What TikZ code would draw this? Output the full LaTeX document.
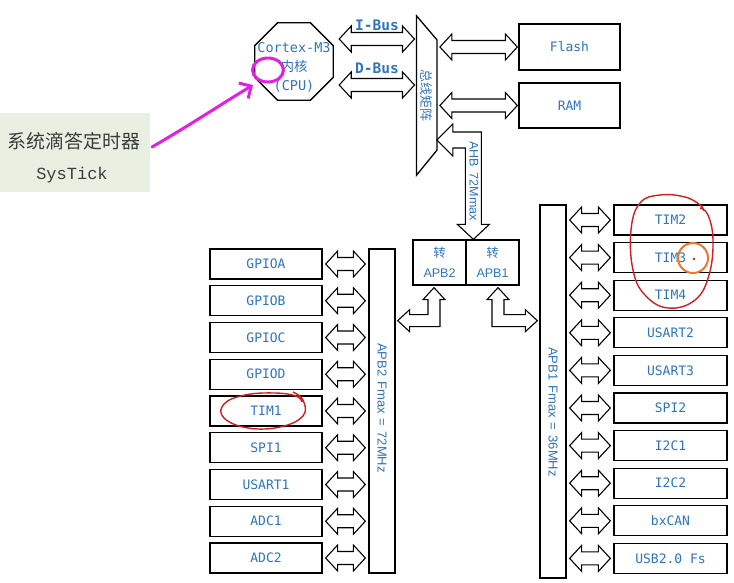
\documentclass[tikz,border=0pt]{standalone}
\usepackage{fontspec}
\usepackage{graphicx}
\usetikzlibrary{calc,arrows.meta}
\newfontfamily\cjk{Noto Sans CJK SC}
\newfontfamily\monof{DejaVu Sans Mono}
\newfontfamily\sansf{Liberation Sans}
\newfontfamily\courf{Liberation Mono}
\definecolor{tblue}{RGB}{46,117,190}
\definecolor{sgreen}{RGB}{233,240,226}
\definecolor{sgray}{RGB}{60,60,60}
\definecolor{mag}{RGB}{228,30,228}
\definecolor{redink}{RGB}{210,30,30}
\definecolor{orink}{RGB}{235,120,45}
% horizontal double block arrow: #1 left point, #2 right point (y from #1), #3/#4 gaps
\newcommand\harr[4]{\draw[blk] let \p1=(#1), \p2=(#2) in
 (\x1+#3,\y1) -- (\x1+#3+12pt,\y1+13pt) -- (\x1+#3+12pt,\y1+6.5pt) -- (\x2-#4-12pt,\y1+6.5pt) -- (\x2-#4-12pt,\y1+13pt) -- (\x2-#4,\y1) -- (\x2-#4-12pt,\y1-13pt) -- (\x2-#4-12pt,\y1-6.5pt) -- (\x1+#3+12pt,\y1-6.5pt) -- (\x1+#3+12pt,\y1-13pt) -- cycle;}
\begin{document}
\begin{tikzpicture}[x=1pt,y=-1pt,
  box/.style={draw,line width=1.3pt,inner sep=0pt,text=tblue,font=\monof\fontsize{13}{15}\selectfont},
  lbox/.style={box,minimum width=112pt,minimum height=30pt},
  rbox/.style={box,minimum width=113pt,minimum height=30pt},
  bar/.style={draw,line width=1.3pt,minimum width=26pt,inner sep=0pt},
  blk/.style={draw,line width=1.1pt,fill=white,line join=miter},
  txt/.style={text=tblue,inner sep=0pt}]
\useasboundingbox (0,0) rectangle (734,582);
\fill[white] (0,0) rectangle (734,582);

% SysTick box
\node[fill=sgreen,minimum width=150pt,minimum height=79pt,inner sep=0pt,anchor=north west] (sys) at (0,113) {};
\node[text=sgray,font=\cjk\fontsize{19}{21}\selectfont] (systxt) at (74,141) {系统滴答定时器};
\node[text=sgray,font=\courf\fontsize{17}{20}\selectfont] (systick) at (72,175) {SysTick};

% CPU (octagon)
\node[minimum width=78pt,minimum height=77pt,inner sep=0pt] (cpu) at (294,61.5) {};
\draw[line width=1.3pt,line join=miter] ([xshift=22.8pt]cpu.north west) -- ([xshift=-22.8pt]cpu.north east) -- ([yshift=-22.8pt]cpu.north east) -- ([yshift=22.8pt]cpu.south east) -- ([xshift=-22.8pt]cpu.south east) -- ([xshift=22.8pt]cpu.south west) -- ([yshift=22.8pt]cpu.south west) -- ([yshift=-22.8pt]cpu.north west) -- cycle;
\node[txt,align=center,font=\monof\fontsize{13.5}{19}\selectfont] (cputxt) at (294,67) {Cortex-M3\\{\cjk 内核}\\(CPU)};

% bus labels
\node[txt,font=\monof\bfseries\fontsize{14.5}{16}\selectfont] (ibus) at (377,25) {I-Bus};
\node[txt,font=\monof\bfseries\fontsize{14.5}{16}\selectfont] (dbus) at (377,68) {D-Bus};

% bus matrix
\node[minimum width=20pt,minimum height=159pt,inner sep=0pt,text=tblue,font=\cjk\fontsize{13}{15}\selectfont] (mx) at (426.7,95.5) {\rotatebox{-90}{总线矩阵}};
\draw[line width=1.3pt,line join=miter] (mx.north west) -- ([yshift=-24pt]mx.north east) -- ([yshift=25pt]mx.south east) -- (mx.south west) -- cycle;

% memories
\node[box,minimum width=101pt,minimum height=46pt] (flash) at (569.5,47) {Flash};
\node[box,minimum width=101pt,minimum height=45pt] (ram) at (569.5,105.5) {RAM};

% bridges
\node[box,font=\sansf\fontsize{12.5}{20}\selectfont,align=center,minimum width=53pt,minimum height=45pt] (br2) at (439.5,262.5) {{\cjk 转}\\APB2};
\node[box,font=\sansf\fontsize{12.5}{20}\selectfont,align=center,minimum width=53pt,minimum height=45pt] (br1) at (492.5,262.5) {{\cjk 转}\\APB1};

% APB bars
\node[bar,minimum height=324pt] (apb2) at (382,411) {};
\node[bar,minimum height=373pt] (apb1) at (553,391.5) {};
\node[txt,font=\sansf\fontsize{13}{15}\selectfont,rotate=-90] (apb2l) at (382,408) {APB2\hspace{5pt}Fmax\hspace{5pt}=\hspace{5pt}72MHz};
\node[txt,font=\sansf\fontsize{13}{15}\selectfont,rotate=-90] (apb1l) at (553,412) {APB1\hspace{5pt}Fmax\hspace{5pt}=\hspace{5pt}36MHz};

% bus arrows
\harr{[yshift=22.5pt]cpu.east}{mx.west}{6pt}{2pt}
\harr{[yshift=-23.5pt]cpu.east}{mx.west}{6pt}{2pt}
\harr{mx.east |- flash.west}{flash.west}{3pt}{1pt}
\harr{mx.east |- ram.west}{ram.west}{3pt}{1pt}

% AHB arrow
\draw[blk] let \p1=([yshift=-44.5pt]mx.east), \p2=([xshift=8pt]br1.north west) in
 (\x1,\y1) -- (\x1+16pt,\y1+16pt) -- (\x1+16pt,\y1+8pt) -- (\x2+8pt,\y1+8pt) -- (\x2+8pt,\y2+15pt) -- (\x2+16pt,\y2+15pt) -- (\x2,\y2) -- (\x2-16pt,\y2+15pt) -- (\x2-8pt,\y2+15pt) -- (\x2-8pt,\y1-8pt) -- (\x1+16pt,\y1-8pt) -- (\x1+16pt,\y1-16pt) -- cycle;
\node[txt,font=\sansf\fontsize{12.5}{14}\selectfont,rotate=-90] (ahb) at (474,181) {AHB\hspace{6pt}72Mmax};

% APB2 L arrow
\draw[blk] let \p1=([xshift=-5.5pt,yshift=-2pt]br2.south), \p2=([xshift=2pt]apb2.east) in
 (\x1,\y1) -- (\x1+11pt,\y1-12pt) -- (\x1+6pt,\y1-12pt) -- (\x1+6pt,\y1-39pt) -- (\x2+12pt,\y1-39pt) -- (\x2+12pt,\y1-44pt) -- (\x2,\y1-33pt) -- (\x2+12pt,\y1-22pt) -- (\x2+12pt,\y1-27pt) -- (\x1-6pt,\y1-27pt) -- (\x1-6pt,\y1-12pt) -- (\x1-11pt,\y1-12pt) -- cycle;
% APB1 L arrow
\draw[blk] let \p1=([xshift=5.5pt,yshift=-2pt]br1.south), \p2=([xshift=-2pt]apb1.west) in
 (\x1,\y1) -- (\x1+11pt,\y1-12pt) -- (\x1+6pt,\y1-12pt) -- (\x1+6pt,\y1-27pt) -- (\x2-12pt,\y1-27pt) -- (\x2-12pt,\y1-22pt) -- (\x2,\y1-33pt) -- (\x2-12pt,\y1-44pt) -- (\x2-12pt,\y1-39pt) -- (\x1-6pt,\y1-39pt) -- (\x1-6pt,\y1-12pt) -- (\x1-11pt,\y1-12pt) -- cycle;

% APB2 peripherals
\foreach \nm/\tx [count=\i from 0] in {gpioa/GPIOA,gpiob/GPIOB,gpioc/GPIOC,gpiod/GPIOD,tim1/TIM1,spi1/SPI1,usart1/USART1,adc1/ADC1,adc2/ADC2}{
  \node[lbox] (\nm) at (266,264+36.75*\i) {\tx};
  \harr{\nm.east}{apb2.west |- \nm.east}{3pt}{3pt}
}
% APB1 peripherals
\foreach \nm/\tx [count=\i from 0] in {tim2/TIM2,tim3/TIM3,tim4/TIM4,usart2/USART2,usart3/USART3,spi2/SPI2,i2c1/I2C1,i2c2/I2C2,bxcan/bxCAN,usb/USB2.0 Fs}{
  \node[rbox] (\nm) at (670.5,220+37.6*\i) {\tx};
  \harr{apb1.east |- \nm.west}{\nm.west}{3pt}{3pt}
}

% hand annotations
\draw[mag,line width=3pt,line cap=round,-{Straight Barb[length=9pt,width=18pt]}] (152,147) .. controls (190,125) and (220,105) .. (253,85);
\draw[mag,line width=3pt] (268,70) ellipse [x radius=15.5,y radius=12];
\draw[redink,line width=1.4pt] plot[smooth,tension=0.7] coordinates {(293,392) (303,400) (303,416) (280,427) (248,428) (224,418) (224,404) (245,395) (275,393) (296,396) (302,402)};
\draw[redink,line width=1.4pt] plot[smooth,tension=0.7] coordinates {(704,211) (700,205) (685,197) (660,195) (640,203) (631,230) (633,270) (645,295) (668,308) (695,300) (709,275) (713,240) (708,215) (700,208)};
\draw[orink,line width=2pt] (693,258) circle [radius=15];
\fill[redink] (694,259) circle [radius=1.3];
\end{tikzpicture}
\end{document}
